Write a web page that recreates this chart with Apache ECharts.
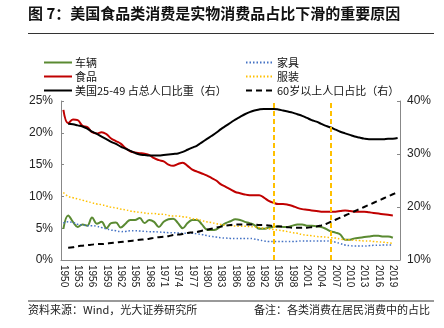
<!DOCTYPE html>
<html><head><meta charset="utf-8">
<script src="https://cdn.jsdelivr.net/npm/echarts@6/dist/echarts.min.js"></script>
<style>html,body{margin:0;padding:0;background:#fff}#c{width:444px;height:328px}</style>
</head><body><div id="c"></div>
<script>
const years = [];
for (let y = 1950; y <= 2020; y++) years.push(String(y));

const vehicles = [4.9,7.0,6.0,5.2,5.6,5.4,6.7,5.7,6.0,5.0,5.8,5.9,5.1,5.7,6.3,6.3,6.6,5.8,6.3,6.0,5.2,6.0,6.4,6.5,5.8,5.0,5.8,6.3,6.3,5.6,4.8,4.7,4.8,5.3,5.8,6.1,6.4,6.3,6.0,5.8,5.5,4.9,4.9,5.1,5.2,5.3,5.2,5.2,5.4,5.6,5.6,5.4,5.4,5.3,5.2,4.9,4.5,4.3,4.0,3.2,3.2,3.4,3.5,3.6,3.7,3.8,3.8,3.7,3.7,3.5,null];
const food = [23.6,21.5,22.1,22.0,21.1,20.9,20.1,19.9,20.1,19.8,19.1,18.7,18.3,17.6,17.1,16.9,16.8,16.7,16.5,16.0,15.7,15.5,15.0,14.8,15.1,15.3,14.8,14.2,13.9,13.6,13.3,12.9,12.5,11.9,11.5,11.1,10.7,10.5,10.3,10.2,10.2,10.2,9.8,9.3,9.0,8.8,8.8,8.7,8.5,8.2,8.0,7.9,7.8,7.7,7.6,7.6,7.6,7.6,7.7,7.8,7.7,7.6,7.6,7.6,7.5,7.4,7.3,7.2,7.1,7.0,null];
const furniture = [5.8,6.0,5.9,5.6,5.5,5.4,5.4,5.3,5.1,4.9,4.7,4.6,4.45,4.5,4.6,4.6,4.55,4.5,4.45,4.45,4.4,4.35,4.3,4.3,4.25,4.2,4.2,4.2,4.1,4.0,3.85,3.7,3.6,3.5,3.45,3.4,3.4,3.4,3.4,3.4,3.3,3.15,3.0,2.9,2.9,2.9,2.9,2.9,2.9,2.95,3.0,3.0,3.0,3.0,3.0,3.0,2.95,2.8,2.6,2.35,2.25,2.2,2.2,2.2,2.25,2.3,2.3,2.35,2.35,2.35,null];
const clothing = [10.6,10.0,9.8,9.6,9.4,9.2,9.0,8.8,8.7,8.5,8.3,8.2,8.0,7.9,7.7,7.6,7.5,7.4,7.3,7.3,7.2,7.2,7.0,6.9,6.9,6.8,6.7,6.5,6.4,6.2,6.0,5.9,5.7,5.6,5.5,5.4,5.35,5.3,5.3,5.25,5.2,5.1,5.0,4.9,4.8,4.7,4.6,4.45,4.3,4.2,4.0,3.9,3.8,3.7,3.65,3.6,3.5,3.45,3.3,3.2,3.15,3.1,3.05,3.0,3.0,2.9,2.85,2.8,2.7,2.6,null];
const age2549 = [null,35.7,35.6,35.4,35.2,34.8,34.2,33.8,33.3,32.8,32.3,31.9,31.4,31.0,30.6,30.2,29.9,29.8,29.7,29.7,29.7,29.8,29.9,30.0,30.1,30.4,30.8,31.2,31.6,32.2,32.8,33.4,34.0,34.7,35.3,35.9,36.5,37.0,37.5,37.9,38.2,38.4,38.5,38.5,38.5,38.4,38.2,38.0,37.8,37.5,37.2,36.8,36.4,36.1,35.7,35.3,35.0,34.6,34.2,33.9,33.6,33.3,33.1,32.9,32.8,32.8,32.8,32.8,32.9,32.9,33.0];
const age60 = [null,12.3,12.4,12.6,12.7,12.8,12.9,13.0,13.0,13.1,13.2,13.3,13.4,13.5,13.6,13.7,13.8,13.9,14.0,14.2,14.3,14.4,14.5,14.7,14.8,14.9,15.1,15.2,15.3,15.5,15.7,15.9,16.1,16.3,16.5,16.6,16.7,16.7,16.7,16.7,16.7,16.6,16.6,16.5,16.4,16.3,16.3,16.2,16.1,16.1,16.1,16.1,16.2,16.3,16.5,16.8,17.2,17.6,18.0,18.4,18.8,19.2,19.6,20.0,20.4,20.8,21.2,21.6,22.0,22.4,22.8];
const markYears = ['1994', '2006'];

const names = ['车辆','食品','美国25-49 占总人口比重（右）','家具','服装','60岁以上人口占比（右）'];

const chart = echarts.init(document.getElementById('c'), null, {renderer:'canvas'});
const font = 'Liberation Sans, Noto Sans CJK SC, sans-serif';
const cjk = 'Noto Sans CJK SC, sans-serif';
const legendBase = {orient:'vertical',top:52,itemWidth:28,itemHeight:10,itemGap:3,
  itemStyle:{opacity:0},
  textStyle:{fontFamily:cjk,fontSize:11,color:'#111',padding:[0,0,0,-2]}};
chart.setOption({
  animation:false,
  textStyle:{fontFamily:font},
  grid:{left:61,right:44,top:101,bottom:68,containLabel:false},
  legend:[
    Object.assign({},legendBase,{data:[names[0],names[1],names[2]],left:38}),
    Object.assign({},legendBase,{data:[names[3],names[4],names[5]],left:240})
  ],
  xAxis:{type:'category',data:years,boundaryGap:true,
    axisLine:{lineStyle:{color:'#888',width:1}},
    axisTick:{inside:true,length:3,interval:2,lineStyle:{color:'#888'}},
    axisLabel:{interval:2,rotate:-90,fontSize:10,color:'#222',margin:5,fontFamily:font}},
  yAxis:[
    {type:'value',min:0,max:25,interval:5,
     axisLine:{show:true,lineStyle:{color:'#888'}},axisTick:{show:true,inside:true,length:3,lineStyle:{color:'#888'}},
     splitLine:{show:false},axisLabel:{formatter:'{value}%',fontSize:12,color:'#222',margin:8}},
    {type:'value',min:10,max:40,interval:10,position:'right',
     axisLine:{show:true,lineStyle:{color:'#888'}},axisTick:{show:true,inside:true,length:3,lineStyle:{color:'#888'}},
     splitLine:{show:false},axisLabel:{formatter:'{value}%',fontSize:12,color:'#222',margin:7}}
  ],
  series:[
    {name:names[0],type:'line',data:vehicles,yAxisIndex:0,symbol:'none',smooth:0.4,
     lineStyle:{color:'#5a8a32',width:2},itemStyle:{color:'#5a8a32'}},
    {name:names[1],type:'line',data:food,yAxisIndex:0,symbol:'none',smooth:0.4,
     lineStyle:{color:'#c00000',width:2},itemStyle:{color:'#c00000'}},
    {name:names[2],type:'line',data:age2549,yAxisIndex:1,symbol:'none',smooth:0.4,
     lineStyle:{color:'#000',width:2},itemStyle:{color:'#000'},
     markLine:{silent:true,symbol:'none',label:{show:false},
       lineStyle:{color:'#ffc000',type:[5,3],width:2},
       data:markYears.map(y=>({xAxis:y}))}},
    {name:names[3],type:'line',data:furniture,yAxisIndex:0,symbol:'none',smooth:0.4,
     lineStyle:{color:'#4472c4',width:1.5,type:[1.5,2]},itemStyle:{color:'#4472c4'}},
    {name:names[4],type:'line',data:clothing,yAxisIndex:0,symbol:'none',smooth:0.4,
     lineStyle:{color:'#ffc000',width:1.5,type:[1.5,2]},itemStyle:{color:'#ffc000'}},
    {name:names[5],type:'line',data:age60,yAxisIndex:1,symbol:'none',smooth:0.4,
     lineStyle:{color:'#000',width:2,type:[6,4]},itemStyle:{color:'#000'}}
  ],
  graphic:[
    {type:'text',left:28,top:6,style:{text:'图 7：美国食品类消费是实物消费品占比下滑的重要原因',fontFamily:cjk,fontSize:15,fontWeight:'bold',fill:'#111'}},
    {type:'line',shape:{x1:28,y1:33.5,x2:434,y2:33.5},style:{stroke:'#333',lineWidth:1}},
    {type:'line',shape:{x1:28,y1:301,x2:434,y2:301},style:{stroke:'#777',lineWidth:1.5}},
    {type:'text',left:28,top:304,style:{text:'资料来源：Wind，光大证券研究所',fontFamily:cjk,fontSize:11,fill:'#222'}},
    {type:'text',right:14,top:304,style:{text:'备注：各类消费在居民消费中的占比',fontFamily:cjk,fontSize:11,fill:'#222'}}
  ]
});
</script></body></html>
